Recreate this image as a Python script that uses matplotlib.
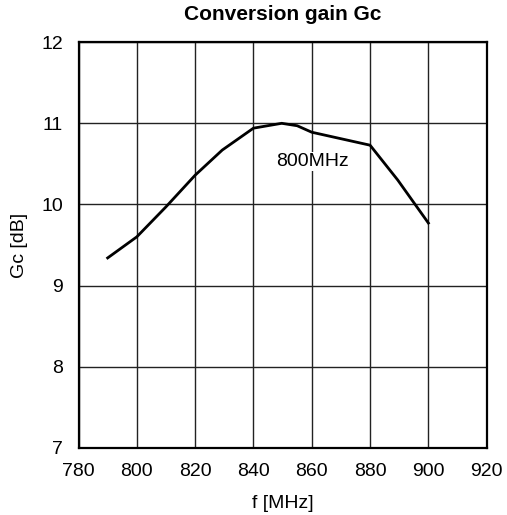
import matplotlib.pyplot as plt

# data
freq = [790, 800, 810, 820, 829.3, 840, 849.7, 855, 860, 870, 880, 889.5, 900]
gain = [9.34, 9.60, 9.97, 10.36, 10.67, 10.94, 11.0, 10.97, 10.89, 10.81, 10.73, 10.30, 9.77]
xticks = [780, 800, 820, 840, 860, 880, 900, 920]
yticks = [7, 8, 9, 10, 11, 12]

plt.rcParams['font.family'] = ['Liberation Sans', 'DejaVu Sans']

fig = plt.figure(figsize=(5.07, 5.15), dpi=100)
ax = fig.add_axes([78.5/507, 1 - 447.7/515, (486.7 - 78.5)/507, (447.7 - 42.2)/515])

ax.plot(freq, gain, color='black', lw=2, zorder=3)
ax.text(860.3, 10.53, '800MHz', ha='center', va='center', fontsize=14,
        bbox=dict(facecolor='white', edgecolor='none', pad=1), zorder=2)

ax.set_xlim(780, 920)
ax.set_ylim(7, 12)
ax.set_xticks(xticks)
ax.set_yticks(yticks)
ax.tick_params(axis='x', length=0, labelsize=14, pad=11)
ax.tick_params(axis='y', length=0, labelsize=14, pad=11)
ax.grid(color='#222222', lw=1)
for s in ax.spines.values():
    s.set_linewidth(1.6)

ax.set_title('Conversion gain Gc', fontsize=15, fontweight='bold', pad=16)
ax.set_xlabel('f [MHz]', fontsize=14, labelpad=11)
ax.set_ylabel('Gc [dB]', fontsize=14, labelpad=10)

fig.savefig('out.png', dpi=100)
